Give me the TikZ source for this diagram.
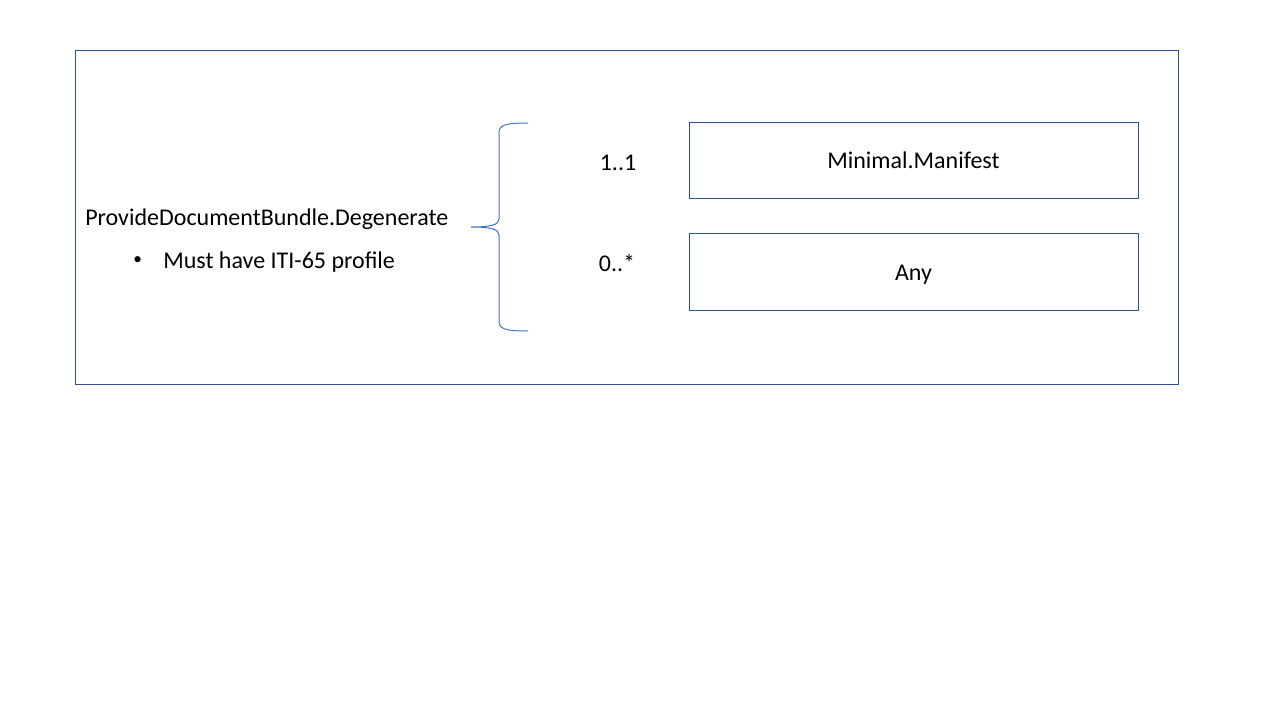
\documentclass[tikz,border=0pt]{standalone}
\usepackage{fontspec}
\setmainfont{Carlito}
\usepackage{tikz}
\usetikzlibrary{positioning,calc}
\definecolor{boxblue}{HTML}{2F528F}
\definecolor{braceblue}{HTML}{4472C4}

\begin{document}
\begin{tikzpicture}[
    x=0.75pt, y=-0.75pt,
    frame/.style={draw=boxblue, line width=0.75pt},
    part/.style={draw=boxblue, line width=0.75pt, minimum width=449*0.75pt,
                 minimum height=76*0.75pt, font=\fontsize{18}{22}\selectfont, inner sep=0pt,
                 text height=12pt, text depth=0pt},
    card/.style={font=\fontsize{18}{22}\selectfont, inner sep=0pt},
    brace/.style={draw=braceblue, line width=0.75pt}
]
\useasboundingbox (0,0) rectangle (1280,720);

% --- frame ---
\draw[frame] (75,51) rectangle (1178,384);

% --- nodes ---
\node[card, anchor=west] (bundle) at (85,219) {ProvideDocumentBundle.Degenerate};
\node[card, anchor=west, font=\fontsize{13}{16}\selectfont] (dot) at (133,261) {\textbullet};
\node[card, anchor=west] (rule) at (163,262) {Must have ITI-65 profile};

\node[part] (manifest) at (913.5,160.5) {Minimal.Manifest};
\node[part] (any) at (913.5,272) {Any};

\node[card] (one) at (618,163) {1..1};
\node[card] (many) at (617,263) {0..*};

% --- brace ---
\coordinate (btop) at (528,123);
\coordinate (btip) at (471,227);
\coordinate (bbot) at (528,331);
\draw[brace] (btop) .. controls (505,123) and (499,125) .. (499,133)
    -- (499,219) .. controls (499,225) and (490,227) .. (btip)
    .. controls (490,227) and (499,229) .. (499,235)
    -- (499,321) .. controls (499,329) and (505,331) .. (bbot);

\end{tikzpicture}
\end{document}
